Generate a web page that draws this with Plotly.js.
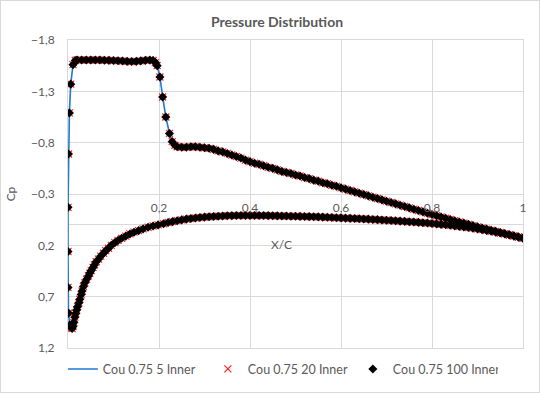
<!DOCTYPE html>
<html>
<head>
<meta charset="utf-8">
<script src="https://cdn.plot.ly/plotly-3.0.1.min.js"></script>
<style>
html,body{margin:0;padding:0;background:#fff;}
#chart{width:538px;height:391px;border:1px solid #d9d9d9;}
</style>
</head>
<body>
<div id="chart"></div>
<script>
// Upper surface, leading edge -> trailing edge
const upperX = [0.0,0.001,0.003,0.006,0.011,0.016,0.02,0.03,0.04,0.05,0.06,0.07,0.08,0.09,0.10,0.11,0.12,0.13,0.14,0.15,0.16,0.17,0.18,0.187,0.192,0.196,0.202,0.208,0.215,0.223,0.229,0.235,0.24,0.25,0.26,0.27,0.28,0.29,0.30,0.31,0.32,0.33,0.34,0.35,0.36,0.37,0.38,0.39,0.40,0.41,0.42,0.43,0.44,0.45,0.46,0.47,0.48,0.49,0.50,0.51,0.52,0.53,0.54,0.55,0.56,0.57,0.58,0.59,0.60,0.61,0.62,0.63,0.64,0.65,0.66,0.67,0.68,0.69,0.70,0.71,0.72,0.73,0.74,0.75,0.76,0.77,0.78,0.79,0.80,0.81,0.82,0.83,0.84,0.85,0.86,0.87,0.88,0.89,0.90,0.91,0.92,0.93,0.94,0.95,0.96,0.97,0.98,0.99,1.00];
const upperCp = [-0.17,-0.69,-1.09,-1.37,-1.56,-1.60,-1.605,-1.605,-1.605,-1.605,-1.605,-1.605,-1.603,-1.602,-1.60,-1.598,-1.595,-1.592,-1.59,-1.592,-1.597,-1.602,-1.605,-1.60,-1.58,-1.55,-1.44,-1.245,-1.05,-0.89,-0.81,-0.775,-0.76,-0.755,-0.755,-0.76,-0.76,-0.755,-0.75,-0.745,-0.735,-0.72,-0.71,-0.695,-0.68,-0.665,-0.65,-0.63,-0.615,-0.60,-0.59,-0.575,-0.56,-0.55,-0.535,-0.52,-0.51,-0.50,-0.485,-0.475,-0.46,-0.45,-0.435,-0.425,-0.41,-0.40,-0.385,-0.375,-0.36,-0.347,-0.334,-0.321,-0.308,-0.295,-0.282,-0.269,-0.256,-0.243,-0.23,-0.217,-0.204,-0.191,-0.178,-0.165,-0.152,-0.139,-0.126,-0.113,-0.10,-0.088,-0.076,-0.064,-0.052,-0.04,-0.028,-0.016,-0.004,0.008,0.02,0.031,0.042,0.053,0.064,0.075,0.086,0.097,0.108,0.119,0.13];
// Lower surface, leading edge -> trailing edge
const lowerX = [0.0,0.0,0.001,0.004,0.007,0.009,0.011,0.013,0.015,0.017,0.019,0.021,0.024,0.026,0.029,0.031,0.034,0.037,0.041,0.045,0.048,0.051,0.055,0.058,0.062,0.067,0.072,0.078,0.083,0.089,0.095,0.103,0.11,0.118,0.127,0.136,0.145,0.155,0.165,0.176,0.187,0.198,0.21,0.22,0.23,0.24,0.25,0.26,0.27,0.28,0.29,0.30,0.31,0.32,0.33,0.34,0.35,0.36,0.37,0.38,0.39,0.40,0.41,0.42,0.43,0.44,0.45,0.46,0.47,0.48,0.49,0.50,0.51,0.52,0.53,0.54,0.55,0.56,0.57,0.58,0.59,0.60,0.61,0.62,0.63,0.64,0.65,0.66,0.67,0.68,0.69,0.70,0.71,0.72,0.73,0.74,0.75,0.76,0.77,0.78,0.79,0.80,0.81,0.82,0.83,0.84,0.85,0.86,0.87,0.88,0.89,0.90,0.91,0.92,0.93,0.94,0.95,0.96,0.97,0.98,0.99,1.00];
const lowerCp = [0.26,0.61,0.86,0.975,1.0,1.01,0.99,0.95,0.90,0.865,0.83,0.797,0.76,0.725,0.68,0.645,0.60,0.565,0.53,0.498,0.47,0.446,0.415,0.391,0.36,0.335,0.305,0.277,0.252,0.228,0.20,0.174,0.152,0.131,0.11,0.089,0.072,0.057,0.04,0.024,0.012,0.001,-0.01,-0.022,-0.031,-0.04,-0.048,-0.055,-0.061,-0.066,-0.071,-0.075,-0.078,-0.081,-0.084,-0.086,-0.088,-0.089,-0.09,-0.091,-0.091,-0.091,-0.091,-0.09,-0.09,-0.089,-0.088,-0.087,-0.086,-0.085,-0.084,-0.083,-0.082,-0.081,-0.08,-0.078,-0.077,-0.075,-0.073,-0.071,-0.069,-0.067,-0.065,-0.063,-0.061,-0.059,-0.057,-0.055,-0.052,-0.05,-0.047,-0.045,-0.042,-0.039,-0.036,-0.033,-0.03,-0.027,-0.024,-0.02,-0.017,-0.013,-0.009,-0.004,0.0,0.005,0.01,0.015,0.021,0.027,0.033,0.04,0.047,0.055,0.063,0.071,0.08,0.089,0.099,0.109,0.12,0.13];

const seriesNames = ["Cou 0.75 5 Inner","Cou 0.75 20 Inner","Cou 0.75 100 Inner"];
const yTicks = [-1.8,-1.3,-0.8,-0.3,0.2,0.7,1.2];
const xTicks = [0.2,0.4,0.6,0.8,1];

// Closed contour: upper TE -> LE, then lower LE -> TE
const xs = upperX.slice().reverse().concat(lowerX);
const cps = upperCp.slice().reverse().concat(lowerCp);

const font = "Lato, 'Open Sans', sans-serif";
const grey = "#595959";
const grid = "#d9d9d9";

const traces = [
  {x: xs, y: cps, name: seriesNames[0], mode: "lines", type: "scatter",
   line: {color: "#1f78d1", width: 1.6}},
  {x: xs, y: cps, name: seriesNames[1], mode: "markers", type: "scatter",
   marker: {symbol: "x-thin", size: 7, line: {color: "#ff2020", width: 1.2}, color: "#ff2020"}},
  {x: xs, y: cps, name: seriesNames[2], mode: "markers", type: "scatter",
   marker: {symbol: "diamond", size: 7, color: "#000000"}},
  {x: xTicks, y: xTicks.map(()=>null), xaxis: "x2", yaxis: "y", showlegend: false, hoverinfo: "skip", mode: "markers", type: "scatter"}
];

const layout = {
  width: 538, height: 391,
  margin: {l: 67, r: 16, t: 39, b: 44},
  paper_bgcolor: "#fff", plot_bgcolor: "#fff",
  separators: ", ",
  font: {family: font, color: grey, size: 12},
  title: {text: "<b>Pressure Distribution</b>", font: {family: font, size: 14, color: grey},
          x: 0.513, xref: "container", y: 0.947, yref: "container", yanchor: "middle"},
  xaxis: {range: [0, 1], tickvals: [0,0.2,0.4,0.6,0.8,1], showticklabels: false,
          showgrid: true, gridcolor: grid, gridwidth: 1, zeroline: false,
          showline: true, linecolor: grid, mirror: true, ticks: ""},
  xaxis2: {range: [0, 1], overlaying: "x", anchor: "free", position: 0.4, side: "top",
           tickvals: xTicks, ticktext: xTicks.map(v => String(v).replace(".", ",")),
           showgrid: false, zeroline: false, showline: false,
           ticks: "outside", ticklen: 8, tickcolor: "rgba(0,0,0,0)",
           tickfont: {family: font, size: 12, color: grey}},
  yaxis: {range: [1.2, -1.8], tickvals: yTicks, tickformat: ".1f",
          showgrid: true, gridcolor: grid, gridwidth: 1,
          zeroline: true, zerolinecolor: grid, zerolinewidth: 1,
          showline: true, linecolor: grid, mirror: true,
          ticks: "outside", ticklen: 10, tickcolor: "rgba(0,0,0,0)",
          tickfont: {family: font, size: 12, color: grey},
          title: {text: "Cp", font: {family: font, size: 12, color: grey}, standoff: 12}},
  legend: {orientation: "h", x: 0.115, xref: "container", xanchor: "left",
           y: 0.058, yref: "container", yanchor: "middle",
           entrywidth: 100, entrywidthmode: "pixels",
           font: {family: font, size: 12.5, color: grey}, itemwidth: 30, tracegroupgap: 0},
  annotations: [
    {text: "X/C", xref: "paper", yref: "paper", x: 0.47, y: 0.337, showarrow: false,
     font: {family: font, size: 12, color: grey}, xanchor: "center", yanchor: "middle"}
  ],
  showlegend: true
};

Plotly.newPlot("chart", traces, layout, {displayModeBar: false, staticPlot: true});
</script>
</body>
</html>
